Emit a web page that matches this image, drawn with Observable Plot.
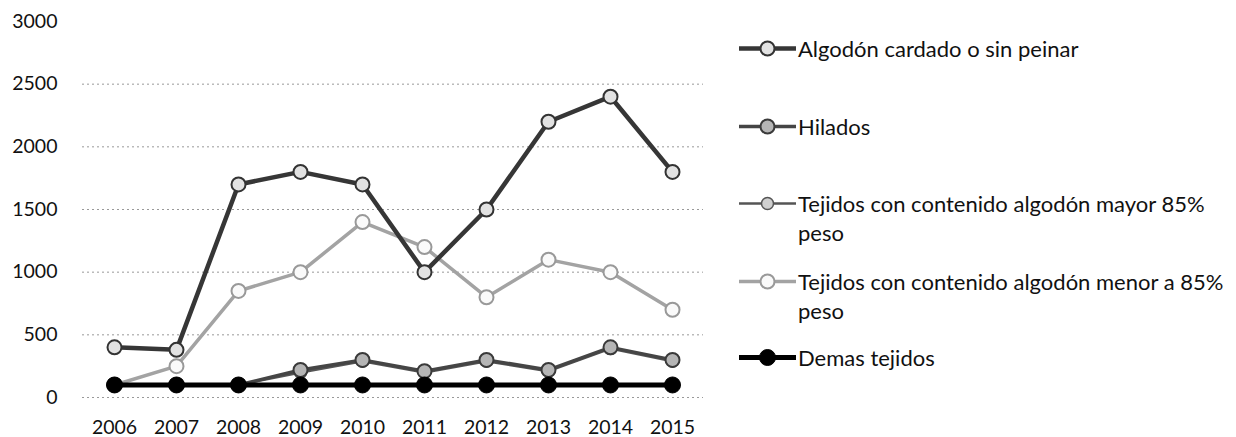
<!DOCTYPE html>
<html>
<head>
<meta charset="utf-8">
<script src="https://cdn.jsdelivr.net/npm/d3@7"></script>
<script src="https://cdn.jsdelivr.net/npm/@observablehq/plot@0.6"></script>
<style>
  html, body { margin: 0; padding: 0; background: #fff; }
  #wrap { position: relative; width: 1236px; height: 437px; font-family: Lato, "Open Sans", sans-serif; color: #111; }
  #legend { position: absolute; left: 0; top: 0; width: 1236px; height: 437px; pointer-events: none; }
  .item { position: absolute; left: 739px; display: flex; align-items: flex-start; font-size: 22px; line-height: 29px; white-space: nowrap; }
  .item svg { flex: none; margin-top: 0px; }
  .item span { margin-left: 2px; }
</style>
</head>
<body>
<div id="wrap"><div id="legend"></div></div>
<script>
const years = [2006, 2007, 2008, 2009, 2010, 2011, 2012, 2013, 2014, 2015];
const algodon = [400, 380, 1700, 1800, 1700, 1000, 1500, 2200, 2400, 1800];
const hilados = [100, 100, 100, 220, 300, 210, 300, 220, 400, 300];
const tejidosMayor = [100, 100, 100, 200, 290, 200, 290, 210, 390, 290];
const tejidosMenor = [100, 250, 850, 1000, 1400, 1200, 800, 1100, 1000, 700];
const demas = [100, 100, 100, 100, 100, 100, 100, 100, 100, 100];
const yTicks = [0, 500, 1000, 1500, 2000, 2500, 3000];
const gridValues = [0, 500, 1000, 1500, 2000, 2500];

const seriesNames = [
  "Algodón cardado o sin peinar",
  "Hilados",
  "Tejidos con contenido algodón mayor 85% peso",
  "Tejidos con contenido algodón menor a 85% peso",
  "Demas tejidos"
];
const legendLines = [
  ["Algodón cardado o sin peinar"],
  ["Hilados"],
  ["Tejidos con contenido algodón mayor 85%", "peso"],
  ["Tejidos con contenido algodón menor a 85%", "peso"],
  ["Demas tejidos"]
];
const seriesValues = [algodon, hilados, tejidosMayor, tejidosMenor, demas];

const styles = {
  "Algodón cardado o sin peinar": {line: "#363636", lw: 4.5, mfill: "#e2e2e2", mstroke: "#333", r: 7, mw: 2},
  "Hilados": {line: "#454545", lw: 3.5, mfill: "#b5b5b5", mstroke: "#3a3a3a", r: 7, mw: 2},
  "Tejidos con contenido algodón mayor 85% peso": {line: "#555", lw: 2.5, mfill: "#d0d0d0", mstroke: "#555", r: 6, mw: 1.5},
  "Tejidos con contenido algodón menor a 85% peso": {line: "#a3a3a3", lw: 3.5, mfill: "#fafafa", mstroke: "#999", r: 7, mw: 2},
  "Demas tejidos": {line: "#000", lw: 5, mfill: "#000", mstroke: "#000", r: 8, mw: 1}
};

const rows = [];
seriesNames.forEach((name, i) => {
  years.forEach((yr, j) => rows.push({series: name, year: yr, value: seriesValues[i][j]}));
});

const drawOrder = [3, 2, 1, 0, 4];
const marks = [
  Plot.ruleY(gridValues, {stroke: "#777", strokeOpacity: 0.75, strokeDasharray: "2,3", strokeWidth: 1})
];
drawOrder.forEach(i => {
  const name = seriesNames[i];
  const s = styles[name];
  const data = rows.filter(d => d.series === name);
  marks.push(Plot.line(data, {x: "year", y: "value", stroke: s.line, strokeWidth: s.lw}));
  marks.push(Plot.dot(data, {x: "year", y: "value", r: s.r, fill: s.mfill, stroke: s.mstroke, strokeWidth: s.mw}));
});

const chart = Plot.plot({
  width: 1236,
  height: 437,
  marginLeft: 82,
  marginRight: 533,
  marginTop: 21,
  marginBottom: 40,
  style: {fontFamily: "Lato, 'Open Sans', sans-serif", fontSize: "19.5px", color: "#111", background: "transparent"},
  x: {type: "point", domain: years, padding: 0.5, label: null, tickSize: 0, tickPadding: 23, tickFormat: d => String(d)},
  y: {domain: [0, 3000], ticks: yTicks, label: null, tickSize: 0, tickPadding: 25, tickFormat: d => String(d)},
  marks
});
const wrap = document.getElementById("wrap");
wrap.insertBefore(chart, wrap.firstChild);

// legend
const legendTops = [34, 112, 189, 267, 343];
const legend = document.getElementById("legend");
seriesNames.forEach((name, i) => {
  const s = styles[name];
  const div = document.createElement("div");
  div.className = "item";
  div.style.top = legendTops[i] + "px";
  const w = 57, h = 29;
  const svgNS = "http://www.w3.org/2000/svg";
  const svg = document.createElementNS(svgNS, "svg");
  svg.setAttribute("width", w); svg.setAttribute("height", h);
  const ln = document.createElementNS(svgNS, "line");
  ln.setAttribute("x1", 0); ln.setAttribute("x2", w); ln.setAttribute("y1", h / 2); ln.setAttribute("y2", h / 2);
  ln.setAttribute("stroke", s.line); ln.setAttribute("stroke-width", s.lw);
  svg.appendChild(ln);
  const c = document.createElementNS(svgNS, "circle");
  c.setAttribute("cx", w / 2); c.setAttribute("cy", h / 2); c.setAttribute("r", s.r);
  c.setAttribute("fill", s.mfill); c.setAttribute("stroke", s.mstroke); c.setAttribute("stroke-width", s.mw);
  svg.appendChild(c);
  div.appendChild(svg);
  const span = document.createElement("span");
  span.innerHTML = legendLines[i].join("<br>");
  div.appendChild(span);
  legend.appendChild(div);
});
</script>
</body>
</html>
